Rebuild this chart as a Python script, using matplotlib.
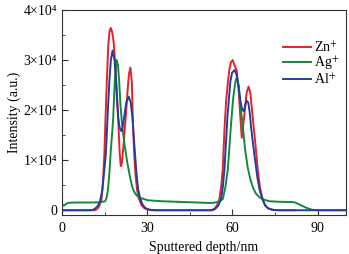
import matplotlib
matplotlib.use('Agg')
import matplotlib.pyplot as plt
from matplotlib.ticker import MultipleLocator, FuncFormatter

plt.rcParams['font.family'] = ['Liberation Serif', 'DejaVu Serif']
plt.rcParams['mathtext.fontset'] = 'stix'

# Zn+ profile (depth nm, counts)
zn_depth = [0, 8, 11.5, 12.3, 13, 13.9, 14.4, 14.9, 15.3, 15.8, 16.3, 16.8, 17.2, 17.7, 18.2,
            18.8, 19.3, 19.8, 20.3, 20.7, 21.1, 21.6, 22.0, 22.5, 23.1, 23.6, 24.1, 24.6, 25.0,
            25.4, 25.9, 26.4, 27.0, 28.0, 29.0, 30.0, 31.5, 40, 50, 52.5, 53.7, 54.6, 55.4, 56.0,
            56.6, 57.2, 57.8, 58.4, 58.9, 59.5, 60.1, 60.7, 61.5, 62.2, 62.8, 63.3, 63.8, 64.4,
            65.0, 65.7, 66.3, 67.0, 67.6, 68.3, 68.9, 69.7, 70.6, 71.5, 72.5, 74, 76, 82]
zn_counts = [0, 0, 0, 200, 700, 2000, 5500, 11000, 18000, 26000, 33000, 36000, 36400, 35500, 33500,
             28500, 23500, 18000, 11500, 8800, 9500, 12500, 15500, 19000, 24000, 27300, 28500, 25500, 17000,
             11500, 7000, 4200, 2400, 1000, 400, 150, 0, 0, 0, 0, 300, 1000, 2200, 4500,
             8200, 16000, 22000, 25500, 28000, 29600, 30000, 29000, 28000, 24000, 18500, 14500, 17000, 20000,
             23500, 24700, 23500, 19500, 16000, 12000, 8200, 4600, 2200, 1000, 400, 100, 0, 0]

# Ag+ profile
ag_depth = [0, 0.7, 1.5, 2.5, 5, 8, 11, 13.3, 14.5, 15.2, 15.7, 16.2, 16.7, 17.2, 17.6, 18.0, 18.6,
            19.2, 19.7, 20.1, 20.6, 21.1, 21.6, 22.1, 23.0, 23.9, 24.5, 25.0, 25.8, 26.6, 27.4, 30.2,
            35, 40, 45, 50, 52, 53.5, 55, 56, 56.6, 57.5, 58.4, 59.5, 60.3, 61.0, 61.5, 62.2, 62.9,
            63.6, 64.5, 65.4, 66.4, 67.4, 68.3, 69.5, 71.2, 73, 76, 80, 81.8, 83, 84.5, 86, 88, 90, 100]
ag_counts = [1200, 900, 1300, 1500, 1550, 1550, 1550, 1600, 1700, 1800, 2500, 4200, 7500, 12100, 15000, 18100, 26000,
             30000, 29000, 26000, 21000, 17500, 15000, 12800, 9500, 6800, 5200, 4200, 3300, 2800, 2500, 2000,
             1800, 1700, 1600, 1500, 1450, 1500, 1700, 2000, 2200, 4500, 8200, 17100, 22500, 25500, 26500, 25000, 20500,
             17100, 12000, 8500, 6000, 4300, 3300, 2600, 2100, 1800, 1700, 1650, 1600, 1300, 900, 500, 100, 0, 0]

# Al+ profile
al_depth = [0, 10, 11.0, 11.6, 12.5, 13.3, 14.2, 14.8, 15.4, 15.8, 16.2, 16.7, 17.2, 17.8, 18.5, 19.0,
            19.4, 19.8, 20.3, 20.9, 21.4, 22.0, 22.6, 23.5, 24.2, 24.8, 25.3, 25.6, 26.2, 26.8, 27.5,
            28.5, 29.5, 30.9, 33, 50, 53, 54, 55, 56, 56.6, 57.2, 57.8, 58.3, 58.8, 59.3, 59.9, 60.8,
            61.5, 62.2, 62.9, 63.5, 64.0, 64.5, 65.0, 65.6, 66.1, 66.6, 67.2, 68.0, 68.8, 69.6, 70.6,
            71.5, 72.5, 74, 76, 100]
al_counts = [0, 0, 100, 300, 800, 1600, 4000, 7500, 11000, 15500, 20500, 26000, 30000, 31900, 30000, 26000,
             22000, 18500, 16500, 15800, 16800, 19000, 21500, 22700, 21500, 18500, 14500, 12100, 7500, 4200, 2400,
             1000, 400, 100, 0, 0, 0, 300, 900, 2200, 4500, 8200, 14000, 19000, 22500, 25800, 27500, 28000,
             27000, 24500, 21500, 20000, 19800, 21000, 21900, 21500, 19500, 16500, 13500, 10000, 6500, 4000, 2200,
             1000, 400, 100, 0, 0]

fig = plt.figure(figsize=(3.49, 2.54), dpi=100)
ax = fig.add_axes([62 / 349, 1 - 215 / 254, 284 / 349, 205 / 254])

ax.plot(zn_depth, zn_counts, color='#e8202e', lw=1.4, label=r'Zn$^{+}$')
ax.plot(ag_depth, ag_counts, color='#14893a', lw=1.4, label=r'Ag$^{+}$')
ax.plot(al_depth, al_counts, color='#233f9e', lw=1.4, label=r'Al$^{+}$')

ax.set_xlim(0, 100)
ax.set_ylim(-950, 40000)
ax.xaxis.set_major_locator(MultipleLocator(30))
ax.xaxis.set_minor_locator(MultipleLocator(15))
ax.yaxis.set_major_locator(MultipleLocator(10000))
ax.yaxis.set_minor_locator(MultipleLocator(5000))


def sci(v, pos):
    n = int(round(v / 10000))
    if n == 0:
        return '0'
    return '%d\u00d710\u2074' % n


ax.yaxis.set_major_formatter(FuncFormatter(sci))
ax.tick_params(which='both', direction='in', top=False, right=False, labelsize=10, color='#333333')
ax.tick_params(which='major', length=4)
ax.tick_params(which='minor', length=2)
ax.tick_params(axis='x', pad=5)
for s in ax.spines.values():
    s.set_color('#333333')
    s.set_linewidth(0.8)

ax.set_xlabel('Sputtered depth/nm', fontsize=10, labelpad=4)
ax.set_ylabel('Intensity (a.u.)', fontsize=10, labelpad=2)

ax.legend(loc='upper left', bbox_to_anchor=(0.745, 0.9), frameon=False, fontsize=10,
          handlelength=2.0, handletextpad=0.2, labelspacing=0.0, borderpad=0.2)

fig.savefig('out.png', dpi=100)
